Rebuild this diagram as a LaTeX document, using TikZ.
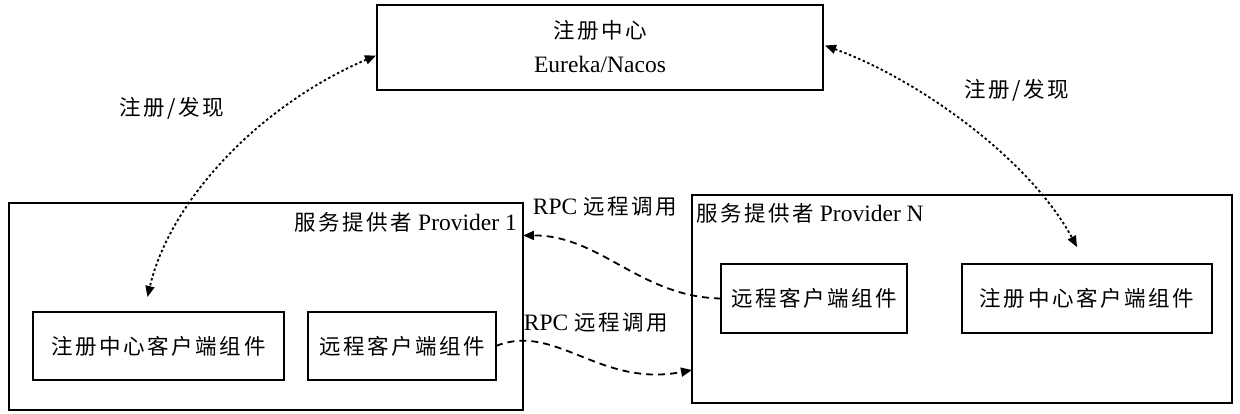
\documentclass[tikz,border=0pt]{standalone}
\usepackage{fontspec}
\setmainfont{Liberation Serif}
\newfontfamily\cjkfam[LetterSpace=12]{Noto Sans CJK SC}
\newcommand\zh[1]{{\fontsize{21.5}{26}\selectfont\cjkfam #1}}
\usetikzlibrary{arrows.meta,calc}
\begin{document}
\begin{tikzpicture}[x=1pt,y=-1pt,
  box/.style={draw,line width=1.6pt,inner sep=0pt,outer sep=0pt,align=center},
  lbl/.style={inner sep=0pt,font=\fontsize{23.5}{28}\selectfont},
  tip/.style={-{Triangle[length=11pt,width=9pt]}},
  dtip/.style={{Triangle[length=11pt,width=9pt]}-{Triangle[length=11pt,width=9pt]}},
  dotline/.style={line width=1.8pt,dash pattern=on 2.5pt off 2.5pt},
  dashline/.style={line width=1.8pt,dash pattern=on 7pt off 5pt}]
\useasboundingbox (0,0) rectangle (1240,413);
\fill[white] (0,0) rectangle (1240,413);
% boxes
\node[box,minimum width=446pt,minimum height=85pt] (reg) at (600,47.5) {};
\node[lbl] (regt1) at (600,30) {\zh{注册中心}};
\node[lbl] (regt2) at (600,64) {Eureka/Nacos};
\node[box,minimum width=514pt,minimum height=207pt] (p1) at (266,306.5) {};
\node[box,minimum width=251pt,minimum height=68pt] (p1reg) at (158.5,346) {\zh{注册中心客户端组件}};
\node[box,minimum width=188pt,minimum height=68pt] (p1rem) at (402,346) {\zh{远程客户端组件}};
\node[box,minimum width=540pt,minimum height=208pt] (pn) at (962,299) {};
\node[box,minimum width=186pt,minimum height=69pt] (pnrem) at (814,298.5) {\zh{远程客户端组件}};
\node[box,minimum width=250pt,minimum height=69pt] (pnreg) at (1087,298.5) {\zh{注册中心客户端组件}};
% labels
\node[lbl,anchor=east] (p1t) at (517,222) {\zh{服务提供者} Provider 1};
\node[lbl,anchor=west] (pnt) at (696,213) {\zh{服务提供者} Provider N};
\node[lbl] (rpc1) at (605,207) {RPC \zh{远程调用}};
\node[lbl] (rpc2) at (596,323) {RPC \zh{远程调用}};
\node[lbl] (rd1) at (172,108) {\zh{注册/发现}};
\node[lbl] (rd2) at (1017,90) {\zh{注册/发现}};
% connectors
\coordinate (a1) at ($(reg.west)+(-1,8)$);
\coordinate (a2) at ($(p1reg.north)+(-11,-15)$);
\draw[dotline,dtip] (a1) .. controls (260,105) and (170,200) .. (a2);
\coordinate (b1) at ($(reg.east)+(2,-2)$);
\coordinate (b2) at ($(pnreg.north)+(-10,-17)$);
\draw[dotline,dtip] (b1) .. controls (920,80) and (1030,160) .. (b2);
\coordinate (c2) at ($(p1.east)+(0,-71)$);
\draw[dashline,tip] (pnrem.west) .. controls (640,297) and (600,235) .. (c2);
\coordinate (d2) at ($(pn.west)+(0,71)$);
\draw[dashline,tip] (p1rem.east) .. controls (555,322) and (600,388) .. (d2);
\end{tikzpicture}
\end{document}
